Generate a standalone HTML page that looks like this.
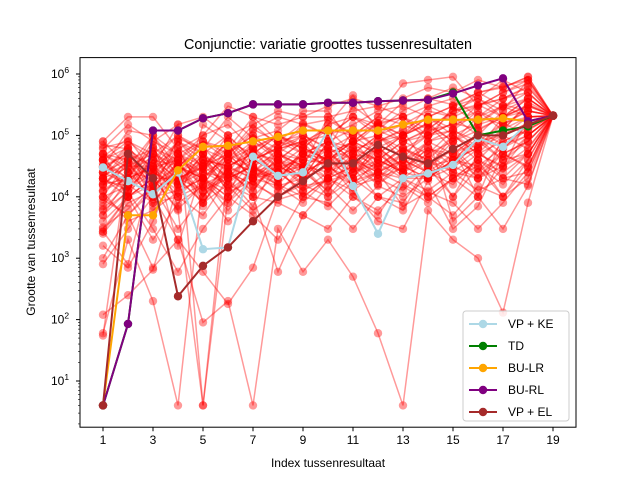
<!DOCTYPE html>
<html><head><meta charset="utf-8"><style>
body{margin:0;background:#fff;}
svg{font-family:"Liberation Sans","DejaVu Sans",sans-serif;}
</style></head><body>
<svg id="c" width="640" height="480" viewBox="0 0 640 480"></svg>
<script>
const xTicks=[1,3,5,7,9,11,13,15,17,19];
const yTickExps=[1,2,3,4,5,6];
const names=["VP + KE","TD","BU-LR","BU-RL","VP + EL"];
const colors=["lightblue","green","orange","purple","brown"];
const vpke=[3e4,1.8e4,1.1e4,2.5e4,1400,1500,4.5e4,2.2e4,2.5e4,1.2e5,1.5e4,2500,2e4,2.4e4,3.3e4,9e4,6.5e4,1.6e5,2.1e5];
const td=[4,85,1.2e5,1.2e5,1.9e5,2.3e5,3.2e5,3.2e5,3.2e5,3.4e5,3.4e5,3.6e5,3.7e5,3.8e5,5e5,1e5,1.2e5,1.4e5,2.1e5];
const bulr=[4,5000,5000,2.7e4,6.5e4,6.8e4,8e4,9.5e4,1.2e5,1.2e5,1.2e5,1.2e5,1.5e5,1.8e5,1.8e5,1.8e5,1.9e5,1.7e5,2.1e5];
const burl=[4,85,1.2e5,1.2e5,1.9e5,2.3e5,3.2e5,3.2e5,3.2e5,3.4e5,3.4e5,3.6e5,3.7e5,3.8e5,4.8e5,6.5e5,8.5e5,1.7e5,2.1e5];
const vpel=[4,5e4,2e4,240,750,1500,4000,1e4,1.8e4,3.5e4,3.5e4,7e4,4.5e4,3.5e4,6e4,1e5,1e5,1.5e5,2.1e5];
const redSeries=[
[3e4,5e4,2e4,8e4,3e4,5e4,1e5,6e4,8e4,1e5,2e5,1.5e5,2e5,3e5,4e5,2e5,3e5,5e5,2.1e5],
[5e3,2e4,1e5,3e4,2e4,1e4,3e4,2e4,5e4,4e4,6e4,8e4,1e5,1.5e5,8e4,1.2e5,2e5,3e5,2.1e5],
[60,2e3,200,4,2e4,5e4,3e4,8e4,1e5,6e4,1e5,2e5,7e5,8e5,9e5,3e5,5e5,8e5,2.1e5],
[8e4,2e5,2e5,6e4,1e5,3e5,2e5,1.5e5,2e5,3e5,4e5,3e5,2e5,1e5,4e3,1e4,3e4,2e5,2.1e5],
[1000,5000,700,2000,90,200,4,3000,600,2000,500,60,4,6000,2000,1000,130,8000,2.1e5],
[2700,800,3e4,1.5e5,4,1e4,9e4,5e4,3e4,2e5,1e5,5e4,1e5,2e5,3e5,5e5,6e5,9e5,2.1e5],
[4e4,1e4,5e4,1600,3e4,8e4,1.5e4,3e4,1e4,2e4,8e4,3e4,5e4,1e4,2e4,4e4,1e4,3e4,2.1e5],
[2e4,3e4,8e3,1e4,5e3,2e4,7e3,4e4,3e4,1e4,3e4,1e4,8e3,3e4,1e5,5e4,8e4,1.2e5,2.1e5],
[7e4,6e4,3e4,4e4,1e5,1.5e5,6e4,1e5,7e4,1.5e5,2e5,1e5,1.5e5,2.5e5,2e5,3e5,4e5,6e5,2.1e5],
[1.5e4,4e4,6e4,2e4,8e3,3e4,2e4,1.5e4,2e4,5e4,1.5e4,2e4,3e4,6e4,5e4,2e4,5e4,8e4,2.1e5],
[3000,1e4,2e3,8e3,1.5e4,4e3,1e4,8e3,5e3,1.5e4,6e3,1.5e4,1e4,2e4,3e4,6e4,2e4,5e4,2.1e5],
[120,250,650,1.6e4,5e4,2e4,6e4,3e4,4e4,8e4,5e4,4e4,8e4,1.2e5,1.5e5,2e5,1.5e5,2.5e5,2.1e5],
[5e4,1e4,2e4,5e4,2e4,6e3,2e4,5e4,1e5,3e4,2e4,6e4,3e4,5e4,8e4,1.5e5,3e5,4e5,2.1e5],
[1e4,1.5e4,4e4,1e5,6e4,4e4,1.2e5,2e5,1.5e5,1e5,1.5e5,2.5e5,3e5,2e5,3e5,4e5,2e5,3e5,2.1e5],
[2.5e4,7e4,1.5e4,3e3,1e4,3e4,1e4,600,5e3,3e3,1e4,5e3,2e4,1e4,5e3,1.5e4,1e4,2e4,2.1e5],
[5e4,3e4,1e5,2e4,3e4,1e5,4e4,6e4,1.5e5,1.8e5,1e5,2e5,1.5e5,1e5,2.5e5,3e5,5e5,7e5,2.1e5],
[6e3,1.2e4,3e3,600,3e3,1e4,5e3,2e3,1e4,8e3,3e3,1e4,6e3,3e4,1e4,3e4,1e4,4e4,2.1e5],
[4e4,8e4,5e4,1e5,5e4,2e4,5e4,1e5,6e4,4e4,8e4,1e5,6e4,1e5,1.2e5,8e4,1e5,2e5,2.1e5],
[800,3000,1e4,2e3,600,180,700,1e4,2e4,5e4,3e4,1e5,2e5,8e4,1e5,6e4,2e5,4e5,2.1e5],
[2e4,6e4,1e4,3e4,8e4,6e4,2e5,8e4,5e4,6e4,3e5,1.5e5,1e5,3e5,2e5,5e5,3e5,2e5,2.1e5],
[3.5e4,2e4,3e4,6e4,1.2e4,2.5e4,8e4,4e4,2e4,8e4,4e4,3e4,6e4,4e4,1e4,5e4,3e4,1e5,2.1e5],
[1.2e4,4e3,6e3,1.2e4,2e4,8e3,3e4,1.5e4,8e3,2e4,1e4,6e3,1.5e4,8e3,2e4,1e4,3e3,1.5e4,2.1e5],
[6e4,1.5e5,8e4,1.5e5,2e5,1e5,1.5e5,2.5e5,2e5,2e5,2.5e5,3e5,4e5,6e5,5e5,8e5,6e5,9e5,2.1e5],
[2700,1e4,2e4,6e3,4,3e4,6e4,2e4,3e4,1.2e4,5e4,2e4,4e4,1.5e5,6e4,1e4,1e5,6e4,2.1e5],
[55,4e4,7e3,4e4,1e4,4e4,2.5e4,6e4,8e4,2.5e4,6e4,4e4,2.5e4,8e4,3e5,1.5e5,2e5,2.5e5,2.1e5],
[7e3,2.5e4,4.5e4,1.8e4,4e4,1.5e4,6e3,1.2e4,3e4,6e4,2e4,8e4,1.2e5,3e4,6e4,2e4,6e4,1.5e5,2.1e5],
[9e3,5e3,1.5e4,3.5e4,7e3,5e4,1.5e5,7e4,1.2e5,3e4,1.2e5,6e4,2e4,2e4,4e4,9e4,4e4,5e4,2.1e5],
[1.8e4,1.5e4,7e4,7e3,1.5e5,8e4,3e4,1.8e4,6e4,1.5e5,4.5e5,1.2e5,8e4,5e4,1.2e5,2.5e5,1.2e5,3.5e5,2.1e5],
[4.5e4,9e4,2.5e4,1.5e4,5e4,1.2e4,1.8e4,9e3,1.2e4,7e3,1.8e4,2.5e4,7e3,1.2e4,8e3,3e3,8e3,2.5e4,2.1e5],
[2.2e4,3.5e4,1.2e4,9e4,6e4,2e5,9e4,1.2e5,2.5e5,2.5e5,7e4,1.5e5,3.5e5,4e5,6e5,4e5,8e5,5e5,2.1e5],
[1600,700,4000,4e4,8e3,2.5e4,1.2e4,5e4,4e4,3.5e4,1.2e4,4e3,3e3,1.8e4,3e3,7e3,5e4,3e4,2.1e5],
[3e4,1.2e5,1e5,5e4,1.5e4,7e4,2.5e4,3.5e4,1.5e4,1.8e4,2.5e4,3.5e4,2e4,2.5e4,3.5e4,1.2e5,7e4,1e5,2.1e5]
];
// additional red series stored as log10 values
const redLogSeries=[
[4.4,4.6,4.2,4.8,4.5,4.9,4.7,5.0,4.8,5.1,5.0,5.2,5.3,5.1,5.4,5.5,5.6,5.7,5.32],
[4.1,4.3,4.5,4.0,4.4,4.2,4.6,4.4,4.7,4.5,4.8,4.6,4.9,5.0,5.2,5.1,5.3,5.5,5.32],
[3.8,4.2,3.9,4.4,4.1,4.5,4.3,4.6,4.2,4.7,4.4,4.8,4.5,4.9,5.1,4.8,5.2,5.4,5.32],
[4.7,4.4,4.8,4.6,4.9,4.7,5.1,4.9,5.2,5.0,5.3,5.1,5.4,5.6,5.5,5.7,5.8,5.9,5.32],
[4.0,3.7,4.1,4.3,3.9,4.2,4.0,4.4,4.1,4.3,4.5,4.2,4.6,4.4,4.7,4.9,4.6,5.0,5.32],
[4.6,4.8,4.4,4.7,4.9,4.6,4.8,5.0,4.7,4.9,5.1,4.8,5.0,5.2,5.3,5.0,5.4,5.6,5.32],
[4.3,4.1,4.6,4.2,4.5,4.8,4.4,4.2,4.6,4.3,4.7,5.0,4.6,4.8,4.5,4.9,5.2,5.3,5.32],
[3.6,4.0,4.3,3.8,4.2,3.9,4.3,4.6,4.3,4.5,4.2,4.6,4.4,4.3,4.7,5.0,4.7,4.9,5.32],
[4.5,4.2,4.4,4.9,4.6,4.3,4.5,4.3,4.6,4.8,4.5,4.3,4.7,4.5,4.9,4.6,5.0,5.2,5.32],
[4.8,4.9,4.6,4.5,4.3,4.6,4.9,4.7,4.5,4.7,4.9,5.2,5.0,5.3,5.1,5.5,5.3,5.6,5.32],
[4.2,4.5,4.7,4.4,4.7,4.4,4.2,4.5,4.8,4.6,4.3,4.5,4.8,4.6,4.4,4.7,4.5,4.8,5.32],
[3.9,4.4,4.0,4.6,4.3,4.0,4.4,4.1,4.4,4.1,4.6,4.3,4.1,4.5,4.8,4.4,4.9,5.1,5.32],
[4.6,4.3,4.9,4.7,4.4,4.9,4.6,4.8,5.0,4.8,4.6,4.9,5.1,5.3,5.0,5.2,5.5,5.4,5.32],
[4.0,4.6,4.4,4.1,4.6,4.5,4.7,4.4,4.5,4.4,4.2,4.4,4.3,4.6,4.3,4.6,4.4,4.7,5.32],
[4.3,4.0,4.2,4.5,4.8,4.4,4.1,4.6,4.4,4.6,4.9,4.7,4.4,4.6,5.0,4.7,5.1,5.3,5.32],
[4.5,4.7,4.3,4.3,4.1,4.3,4.5,4.2,4.0,4.3,4.1,4.4,4.2,4.0,4.3,4.5,4.2,4.6,5.32],
[3.4,3.9,4.1,4.7,4.5,4.7,4.3,4.5,4.3,4.5,4.7,4.5,4.8,4.5,4.6,4.8,5.0,5.2,5.32],
[4.9,4.5,4.5,4.2,4.6,4.1,4.6,4.8,4.6,4.2,4.4,4.7,4.4,4.7,4.4,4.3,4.6,4.9,5.32],
[4.2,4.3,4.8,4.5,4.2,4.7,5.0,4.6,4.9,5.1,4.7,5.0,4.7,5.0,5.2,5.4,5.2,5.0,5.32],
[4.4,4.8,4.1,4.4,4.0,4.4,4.2,4.0,4.2,4.0,4.3,4.0,4.3,4.1,4.4,4.1,4.3,4.4,5.32],
[3.7,4.1,4.4,4.2,4.4,4.3,4.5,4.7,4.4,4.6,4.4,4.6,4.4,4.8,4.6,4.4,4.7,4.5,5.32],
[4.1,4.4,4.3,4.6,4.4,4.6,4.4,4.3,4.7,4.5,4.6,4.2,4.5,4.3,4.6,4.8,5.1,5.5,5.32],
[4.6,4.1,4.6,4.3,4.5,4.2,4.8,4.5,4.3,4.9,4.8,4.4,4.6,4.4,4.5,4.3,4.5,4.7,5.32],
[4.3,4.7,4.5,4.9,4.7,5.0,4.6,4.9,4.8,4.6,4.9,4.7,5.0,5.2,4.9,5.3,5.6,5.8,5.32],
[3.5,3.8,4.2,4.4,4.6,4.5,4.7,4.6,4.9,4.7,4.9,5.2,4.9,5.1,5.4,5.6,5.4,5.9,5.32],
[4.2,4.6,4.0,4.1,4.3,4.7,4.3,4.4,4.1,4.4,4.6,4.4,4.7,4.4,4.2,4.6,4.3,4.2,5.32],
[4.4,4.2,4.7,4.5,4.3,4.1,4.4,4.7,4.5,4.3,4.5,4.8,4.5,4.3,4.6,4.5,4.8,5.1,5.32],
[4.7,4.6,4.3,4.0,4.2,4.4,4.6,4.4,4.7,4.9,4.6,4.4,4.6,4.9,4.7,5.0,4.8,5.0,5.32]
];
const L=80,R=576,T=57.6,B=427.2;
const xs=i=>103+(i-1)*25;
const ys=v=>381-(Math.log10(v)-1)*61.4;
const svg=document.getElementById('c');const NS="http://www.w3.org/2000/svg";
function mk(t,a,p){const e=document.createElementNS(NS,t);for(const k in a)e.setAttribute(k,a[k]);(p||svg).appendChild(e);return e;}
const red=mk('g',{});


const allRed=redSeries.concat(redLogSeries.map(r=>r.map(e=>Math.pow(10,e))));
allRed.forEach(s=>{
 const g=mk('g',{},red);
 
 
 mk('polyline',{points:s.map((v,i)=>xs(i+1)+','+ys(v)).join(' '),fill:'none',stroke:'red','stroke-opacity':0.4,'stroke-width':1.5},g);
 s.forEach((v,i)=>mk('circle',{cx:xs(i+1),cy:ys(v),r:4.2,fill:'red','fill-opacity':0.4},g));
});
const series=[vpke,td,bulr,burl,vpel];
series.forEach((s,k)=>{
 const g=mk('g',{});
 
 
 mk('polyline',{points:s.map((v,i)=>xs(i+1)+','+ys(v)).join(' '),fill:'none',stroke:colors[k],'stroke-width':2},g);
 s.forEach((v,i)=>mk('circle',{cx:xs(i+1),cy:ys(v),r:4.2,fill:colors[k]},g));
});
const fr=mk('rect',{x:L,y:T,width:R-L,height:B-T,fill:'none',stroke:'#000','stroke-width':1});


xTicks.forEach(t=>{
 mk('line',{x1:xs(t),x2:xs(t),y1:B,y2:B+4,stroke:'#000'});
 const tx=mk('text',{x:xs(t),y:B+17,'font-size':12,'text-anchor':'middle'});tx.textContent=t;
 
 
});
for(let e=0;e<7;e++)for(let m=2;m<10;m++){const y=ys(m*Math.pow(10,e));if(y>T&&y<B)mk('line',{x1:L-2,x2:L,y1:y,y2:y,stroke:'#000','stroke-width':0.6});}
yTickExps.forEach(e=>{
 const y=ys(Math.pow(10,e));
 mk('line',{x1:L-4,x2:L,y1:y,y2:y,stroke:'#000'});
 const tx=mk('text',{x:L-20,y:y+4,'font-size':12,'text-anchor':'middle'});
 tx.innerHTML='10<tspan dy="-5" font-size="8.5">'+e+'</tspan>';
 
 
});
const ti=mk('text',{x:328,y:49,'font-size':14.4,'text-anchor':'middle'});ti.textContent='Conjunctie: variatie groottes tussenresultaten';


const xl=mk('text',{x:328,y:467,'font-size':12,'text-anchor':'middle'});xl.textContent='Index tussenresultaat';


const yl=mk('text',{x:0,y:0,'font-size':12,'text-anchor':'middle',transform:'translate(35,242) rotate(-90)'});yl.textContent='Grootte van tussenresultaat';


const lg=mk('g',{});


mk('rect',{x:463,y:311,width:106,height:110,rx:3,fill:'#fff','fill-opacity':0.8,stroke:'#ccc'},lg);
names.forEach((n,k)=>{
 const y=324+k*22;
 const e=mk('g',{},lg);
 
 
 mk('line',{x1:469,x2:497,y1:y,y2:y,stroke:colors[k],'stroke-width':2},e);
 mk('circle',{cx:483,cy:y,r:4.2,fill:colors[k]},e);
 const t=mk('text',{x:508,y:y+4,'font-size':12},e);t.textContent=n;
});
</script>
</body></html>
